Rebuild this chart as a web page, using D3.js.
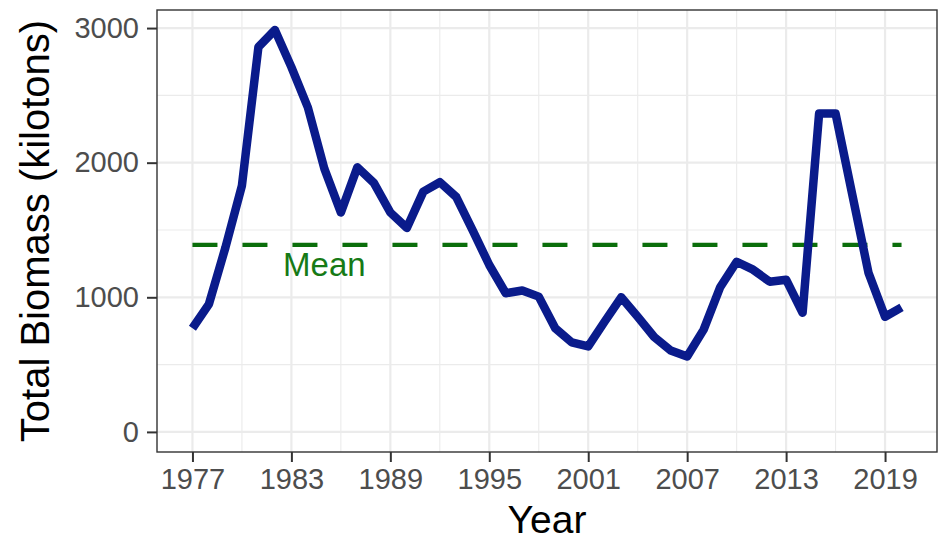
<!DOCTYPE html>
<html>
<head>
<meta charset="utf-8">
<script src="https://cdn.jsdelivr.net/npm/d3@7/dist/d3.min.js"></script>
<style>
  html, body { margin: 0; padding: 0; background: #ffffff; }
  svg { display: block; }
</style>
</head>
<body>
<svg id="chart" width="941" height="541"></svg>
<script>
// ---- data ----
const years = [1977,1978,1979,1980,1981,1982,1983,1984,1985,1986,1987,1988,1989,1990,1991,1992,1993,1994,1995,1996,1997,1998,1999,2000,2001,2002,2003,2004,2005,2006,2007,2008,2009,2010,2011,2012,2013,2014,2015,2016,2017,2018,2019,2020];
const biomass = [770,950,1370,1830,2860,2985,2710,2410,1955,1630,1966,1850,1630,1515,1785,1855,1745,1495,1240,1030,1050,1005,770,665,635,820,1000,855,705,605,560,760,1075,1264,1205,1116,1131,885,2365,2365,1770,1180,855,925];
const meanValue = 1390;
const meanLabel = "Mean";
const xTicks = [1977,1983,1989,1995,2001,2007,2013,2019];
const xMinor = [1980,1986,1992,1998,2004,2010,2016];
const yTicks = [0,1000,2000,3000];
const yMinor = [500,1500,2500];
const xTitle = "Year";
const yTitle = "Total Biomass (kilotons)";

// ---- layout ----
const svg = d3.select("#chart");
const panel = {left: 157, right: 937, top: 10, bottom: 452};

const xMin = d3.min(years), xMax = d3.max(years);
const xPad = (xMax - xMin) * 0.05;
const x = d3.scaleLinear().domain([xMin - xPad, xMax + xPad]).range([panel.left, panel.right]);

const yLo = 0, yHi = d3.max(biomass);
const yPad = (yHi - yLo) * 0.05;
const y = d3.scaleLinear().domain([yLo - yPad, yHi + yPad]).range([panel.bottom, panel.top]);

const font = "'Liberation Sans', Arial, Helvetica, sans-serif";

// panel background
svg.append("rect").attr("x", panel.left).attr("y", panel.top)
  .attr("width", panel.right - panel.left).attr("height", panel.bottom - panel.top)
  .attr("fill", "#ffffff");

const grid = svg.append("g");
// minor grid
grid.selectAll("line.xminor").data(xMinor).enter().append("line")
  .attr("x1", d => x(d)).attr("x2", d => x(d))
  .attr("y1", panel.top).attr("y2", panel.bottom)
  .attr("stroke", "#ebebeb").attr("stroke-width", 1.1);
grid.selectAll("line.yminor").data(yMinor).enter().append("line")
  .attr("y1", d => y(d)).attr("y2", d => y(d))
  .attr("x1", panel.left).attr("x2", panel.right)
  .attr("stroke", "#ebebeb").attr("stroke-width", 1.1);
// major grid
grid.selectAll("line.xmajor").data(xTicks).enter().append("line")
  .attr("x1", d => x(d)).attr("x2", d => x(d))
  .attr("y1", panel.top).attr("y2", panel.bottom)
  .attr("stroke", "#ebebeb").attr("stroke-width", 2.2);
grid.selectAll("line.ymajor").data(yTicks).enter().append("line")
  .attr("y1", d => y(d)).attr("y2", d => y(d))
  .attr("x1", panel.left).attr("x2", panel.right)
  .attr("stroke", "#ebebeb").attr("stroke-width", 2.2);

// mean dashed line
svg.append("line")
  .attr("x1", x(xMin)).attr("x2", x(xMax))
  .attr("y1", y(meanValue)).attr("y2", y(meanValue))
  .attr("stroke", "#0b6e0b").attr("stroke-width", 4.2)
  .attr("stroke-dasharray", "25,25");

// mean label
svg.append("text")
  .attr("x", x(1985)).attr("y", y(1250))
  .attr("text-anchor", "middle").attr("dy", "0.36em")
  .attr("font-family", font).attr("font-size", 33)
  .attr("fill", "#167a16")
  .text(meanLabel);

// biomass line
const line = d3.line().x((d, i) => x(years[i])).y(d => y(d));
svg.append("path").datum(biomass)
  .attr("d", line)
  .attr("fill", "none")
  .attr("stroke", "#0a1b8b")
  .attr("stroke-width", 8.5)
  .attr("stroke-linejoin", "round")
  .attr("stroke-linecap", "butt");

// panel border
svg.append("rect").attr("x", panel.left).attr("y", panel.top)
  .attr("width", panel.right - panel.left).attr("height", panel.bottom - panel.top)
  .attr("fill", "none").attr("stroke", "#333333").attr("stroke-width", 1.4);

// axes
const xAxis = d3.axisBottom(x).tickValues(xTicks).tickFormat(d3.format("d")).tickSize(10).tickPadding(6);
const gx = svg.append("g").attr("transform", `translate(0,${panel.bottom})`).call(xAxis);
gx.select(".domain").remove();
gx.selectAll(".tick line").attr("stroke", "#333333").attr("stroke-width", 2);
gx.selectAll(".tick text").attr("font-family", font).attr("font-size", 29).attr("fill", "#4d4d4d");

const yAxis = d3.axisLeft(y).tickValues(yTicks).tickFormat(d3.format("d")).tickSize(10).tickPadding(8);
const gy = svg.append("g").attr("transform", `translate(${panel.left},0)`).call(yAxis);
gy.select(".domain").remove();
gy.selectAll(".tick line").attr("stroke", "#333333").attr("stroke-width", 2);
gy.selectAll(".tick text").attr("font-family", font).attr("font-size", 29).attr("fill", "#4d4d4d");

// titles
svg.append("text")
  .attr("x", (panel.left + panel.right) / 2).attr("y", 533)
  .attr("text-anchor", "middle")
  .attr("font-family", font).attr("font-size", 39).attr("fill", "#000000")
  .text(xTitle);

svg.append("text")
  .attr("transform", `translate(49,${(panel.top + panel.bottom) / 2}) rotate(-90)`)
  .attr("text-anchor", "middle")
  .attr("font-family", font).attr("font-size", 40).attr("fill", "#000000")
  .text(yTitle);
</script>
</body>
</html>
